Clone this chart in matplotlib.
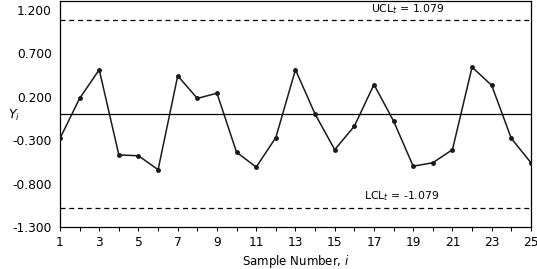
import numpy as np
import matplotlib.pyplot as plt

# Individuals chart of transformed values Y_i
sample = np.arange(1, 26)
y_vals = [-0.28, 0.18, 0.51, -0.47, -0.48, -0.64, 0.44, 0.18, 0.24, -0.44,
          -0.61, -0.27, 0.51, 0.00, -0.41, -0.14, 0.34, -0.08, -0.60, -0.56,
          -0.41, 0.54, 0.33, -0.28, -0.56]
center = 0.0
ucl = 1.079
lcl = -1.079
yticks = [-1.3, -0.8, -0.3, 0.2, 0.7, 1.2]

fig = plt.figure(figsize=(5.37, 2.69), dpi=100)
ax = fig.add_axes([0.1117, 0.156, 0.877, 0.84])

ax.plot(sample, y_vals, color='#1a1a1a', lw=1.1, marker='o', ms=2.5, zorder=3)
ax.axhline(center, color='black', lw=0.9)
ax.axhline(ucl, color='black', lw=0.9, ls=(0, (4, 3)))
ax.axhline(lcl, color='black', lw=0.9, ls=(0, (4, 3)))

ax.text(18.7, ucl + 0.05, 'UCL$_t$ = 1.079', ha='center', va='bottom', fontsize=7.8)
ax.text(18.4, lcl + 0.05, 'LCL$_t$ = -1.079', ha='center', va='bottom', fontsize=7.8)

ax.set_xlim(1, 25)
ax.set_ylim(-1.3, 1.3)
ax.set_xticks(np.arange(1, 26, 2))
ax.set_xticks(np.arange(1, 26), minor=True)
ax.set_yticks(yticks)
ax.set_yticklabels(['%.3f' % v for v in yticks])
ax.tick_params(axis='both', labelsize=8.8, length=3, width=0.7, direction='out')
ax.tick_params(axis='x', which='minor', length=3, width=0.7)
ax.tick_params(axis='y', length=0, pad=6)

ax.set_xlabel('Sample Number, $\\it{i}$', fontsize=8.5, labelpad=3)
fig.text(14 / 537, 1 - 115 / 269, '$Y_i$', fontsize=9, ha='center', va='center')

for s in ax.spines.values():
    s.set_linewidth(0.9)

fig.savefig('out.png', dpi=100)
